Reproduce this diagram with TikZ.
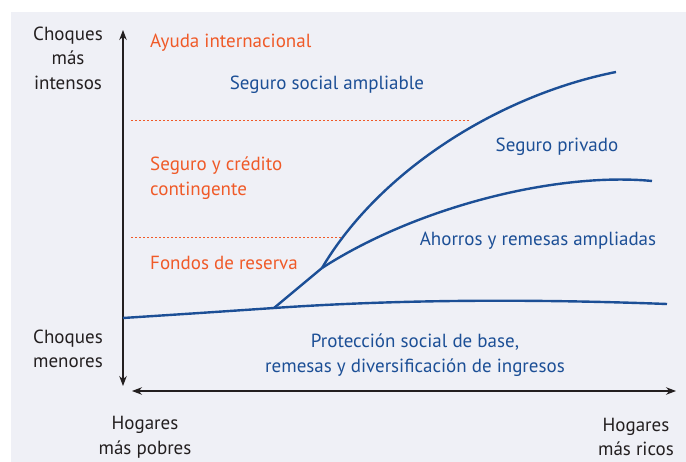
\documentclass[tikz,border=0pt]{standalone}
\usepackage{fontspec}
\setmainfont{PT Sans}
\usetikzlibrary{arrows.meta}
\definecolor{fondo}{RGB}{239,240,246}
\definecolor{azul}{RGB}{28,79,150}
\definecolor{naranja}{RGB}{240,90,40}
\definecolor{negro}{RGB}{35,31,32}
\begin{document}
\begin{tikzpicture}[x=1pt, y=-1pt,
  txt/.style={font=\fontsize{19}{24.5}\selectfont, align=center, inner sep=0pt},
  rojo/.style={txt, text=naranja, align=left},
  az/.style={txt, text=azul},
  curva/.style={draw=azul, line width=2.4pt},
  eje/.style={draw=negro, line width=1.1pt, {Stealth[length=10pt,width=7.5pt]}-{Stealth[length=10pt,width=7.5pt]}},
  punteada/.style={draw=naranja, line width=0.9pt, dash pattern=on 2pt off 2pt}]
\useasboundingbox (0,0) rectangle (686,462);
\fill[fondo] (11,12) rectangle (686,462);
% ejes
\coordinate (arriba) at (123,30);
\coordinate (abajo) at (123,386);
\coordinate (izq) at (132,391);
\coordinate (der) at (676,391);
\draw[eje] (arriba) -- (abajo);
\draw[eje] (izq) -- (der);
% niveles
\draw[punteada] (131,120) -- (469,120);
\draw[punteada] (131,237) -- (341,237);
% curvas
\coordinate (inicio) at (123,318);
\coordinate (base) at (274,308);
\coordinate (rama) at (322,268);
\coordinate (fin) at (667,304);
\draw[curva] (inicio) .. controls (200,313) .. (base) .. controls (420,298) and (560,300) .. (fin);
\draw[curva] (base) -- (rama);
\draw[curva] (rama) .. controls (380,170) and (500,95) .. (616,72);
\draw[curva] (rama) .. controls (420,205) and (560,172) .. (652,181);
% textos
\node[txt, text=negro] (intensos) at (68,58) {Choques\\más\\intensos};
\node[txt, text=negro] (menores) at (68,349) {Choques\\menores};
\node[txt, text=negro] (pobres) at (145,437) {Hogares\\más pobres};
\node[txt, text=negro] (ricos) at (636,437) {Hogares\\más ricos};
\node[rojo, anchor=west] (ayuda) at (150,43) {Ayuda internacional};
\node[rojo, anchor=west] (credito) at (150,178) {Seguro y crédito\\contingente};
\node[rojo, anchor=west] (fondos) at (150,263) {Fondos de reserva};
\node[az] (social) at (327,85) {Seguro social ampliable};
\node[az] (privado) at (557,147) {Seguro privado};
\node[az] (ahorros) at (538,241) {Ahorros y remesas ampliadas};
\node[az] (proteccion) at (415,355) {Protección social de base,\\remesas y diversificación de ingresos};
\end{tikzpicture}
\end{document}
